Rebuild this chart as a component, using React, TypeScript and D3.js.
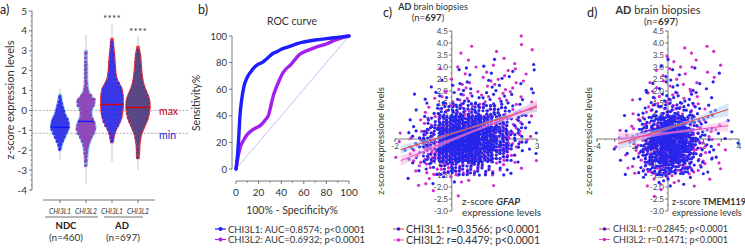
import React from 'react';
import * as d3 from 'd3';

const FONT = "Lato, 'Open Sans', 'DejaVu Sans', sans-serif";

// ---------------- Panel a data ----------------
const groupLabels = ['CHI3L1', 'CHI3L2', 'CHI3L1', 'CHI3L2'];
const cohortLabels = ['NDC', 'AD'];
const cohortSizes = ['460', '697'];
const binStart = -3.0;
const binStep = 0.2;
const ndcL1Counts = [0,0,0,0,0, 2,5,11,17,24, 30,30,27,20,15, 11,7,4,2,0, 0,0,0,0,0, 0,0,0,0,0, 0,0,0];
const ndcL2Counts = [0,1,2,2,4, 6,9,14,20,28, 32,30,24,18,17, 20,28,30,18,8, 5,3,2,2,2, 2,2,1,1,2, 0,0,0];
const adL1Counts = [0,0,0,0,0, 0,0,2,4,8, 14,22,28,32,34, 36,36,36,36,34, 32,24,16,12,10, 9,8,7,6,5, 3,2,1];
const adL2Counts = [0,0,0,1,2, 2,3,5,7,12, 18,24,30,34,37, 39,39,38,34,28, 22,17,14,12,10, 9,8,7,6,4, 1,0,0];
const groupMedians = [-0.85, -0.55, 0.3, 0.15];
const rangeLow = [-2.5, -3.7, -2.6, -3.0];
const rangeHigh = [1.1, 3.8, 4.3, 3.7];
const starLevels = [4.45, 3.8];
const refLevels = [0, -1.15];
const refLabels = ['max', 'min'];
const yTicksA = [-4, -3, -2, -1, 0, 1, 2, 3, 4, 5];

// ---------------- Panel b data ----------------
const rocX1 = [0,1.5,2.5,3.5,5,7,10,13,17,20,23,26,30,33,37,40,45,50,55,60,70,80,90,100];
const rocY1 = [0,12,25,40,52,62,69,73,77,79,80,82,85,87,88.5,90,91.5,93,94.5,95.5,97,98,99,100];
const rocX2 = [0,2,4,7,10,14,18,22,26,29,31,33,35,38,40,44,48,52,56,60,66,72,80,88,95,100];
const rocY2 = [0,10,17,22,26,29,31,33,37,41,48,55,60,66,70,75,78,82,86,88,90,92,94,97,99,100];
const rocTicks = [0, 20, 40, 60, 80, 100];
const rocLegend = ['CHI3L1: AUC=0.8574; p<0.0001', 'CHI3L2: AUC=0.6932; p<0.0001'];

// ---------------- Panel c data (GFAP) ----------------
// counts of points per 0.5 x 0.5 cell; rows from y=4.5 downwards, columns from x=-2 rightwards
const gfapXStart = -2;
const gridYTop = 4.5;
const cellSize = 0.5;
const gfapBlue = [
  [0,0,0,0,0,0,0,0,0,0],
  [0,0,0,0,0,0,0,0,0,0],
  [0,0,0,0,0,0,1,1,0,1],
  [0,0,0,0,1,2,1,1,2,1],
  [0,0,1,1,3,2,2,2,1,1],
  [0,1,2,3,4,4,4,3,2,1],
  [0,1,3,9,14,14,12,8,4,1],
  [0,2,7,20,30,30,24,15,6,2],
  [1,3,13,32,44,44,34,20,8,2],
  [1,4,15,34,46,46,36,20,7,2],
  [1,3,11,26,34,32,22,11,3,1],
  [0,1,4,9,12,11,7,3,1,0],
  [1,0,1,1,1,1,0,0,0,0],
  [0,0,0,0,0,0,0,0,0,0],
];
const gfapMagenta = [
  [0,0,0,0,0,0,0,0,1,0],
  [0,0,0,0,1,1,0,1,1,1],
  [0,0,0,0,1,1,1,1,1,0],
  [0,0,0,1,1,1,2,2,1,1],
  [0,0,0,1,2,2,2,3,2,1],
  [0,0,1,2,3,3,3,3,2,1],
  [0,0,2,4,6,7,7,5,3,1],
  [0,1,4,9,12,13,11,8,4,1],
  [1,2,7,13,18,18,15,10,5,1],
  [1,4,10,17,22,20,15,9,4,1],
  [1,4,10,16,18,15,10,6,2,1],
  [0,2,5,8,9,8,5,3,1,0],
  [0,1,2,1,2,1,1,0,0,0],
  [0,0,1,0,1,0,0,0,0,0],
];
const gfapIntercepts = [0.22, -0.04];
const gfapSlopes = [0.37, 0.48];
const gfapCI = [[0.18, 0.04, 0.2], [0.22, 0.05, 0.22]];
const gfapFitRange = [-1.8, 3.0];
const gfapXTicks = [-2, -1, 0, 1, 2, 3];
const gfapXLabels = [-2, -1, 1, 2, 3];
const gfapLegend = ['CHI3L1: r=0.3566; p<0.0001', 'CHI3L2: r=0.4479; p<0.0001'];

// ---------------- Panel d data (TMEM119) ----------------
const tmemXStart = -3.5;
const tmemBlue = [
  [0,0,0,0,0,0,0,0,0,0,0,0,0,0,0],
  [0,0,0,0,0,0,0,0,0,0,0,0,0,0,0],
  [0,0,0,0,0,0,1,1,0,0,0,0,0,0,0],
  [0,0,0,0,0,0,1,1,1,0,1,0,1,0,0],
  [0,0,0,0,1,1,2,2,1,1,1,1,1,0,0],
  [0,0,0,1,1,2,3,3,3,2,1,1,0,0,0],
  [0,0,0,1,2,4,6,6,6,4,3,2,1,0,0],
  [0,0,1,1,5,11,17,19,16,10,4,2,1,1,0],
  [0,1,1,3,9,18,26,28,24,15,6,3,1,1,1],
  [1,0,1,3,10,20,28,30,25,15,6,3,1,0,1],
  [0,1,1,3,9,16,22,23,19,11,4,2,1,0,0],
  [0,0,1,2,5,9,12,13,10,6,2,1,0,0,0],
  [0,0,0,0,1,1,2,2,1,1,0,0,0,0,0],
  [0,0,0,0,0,0,0,0,0,0,0,0,0,0,0],
];
const tmemMagenta = [
  [0,0,0,0,0,0,0,0,0,0,0,0,0,0,0],
  [0,0,0,0,0,0,0,0,1,1,0,1,1,0,0],
  [0,0,0,0,0,0,1,1,1,0,1,0,1,0,0],
  [0,0,0,0,0,1,1,1,1,1,0,1,1,0,0],
  [0,0,0,0,1,1,1,2,1,1,1,0,0,0,0],
  [0,0,0,1,1,2,2,2,2,1,1,0,0,0,0],
  [0,0,0,1,2,3,4,4,3,2,1,1,0,0,0],
  [0,0,1,1,3,5,7,7,6,4,2,1,1,0,0],
  [0,1,1,2,5,8,10,11,9,6,3,2,1,0,0],
  [0,1,1,3,6,9,12,12,10,7,4,2,1,1,0],
  [0,0,1,2,5,8,10,10,8,6,3,2,1,0,0],
  [0,0,1,2,3,5,6,6,5,4,2,1,1,0,0],
  [0,0,0,0,1,1,2,2,1,1,0,1,0,0,0],
  [0,0,0,0,0,1,1,0,0,0,0,0,0,0,0],
];
const tmemIntercepts = [0.45, 0.25];
const tmemSlopes = [0.23, 0.09];
const tmemCI = [[0.3, 0.06, 0.27], [0.27, 0.05, 0.25]];
const tmemFitRange = [-2.8, 3.4];
const tmemXTicks = [-4, -3, -2, -1, 0, 1, 2, 3, 4];
const tmemXLabels = [-4, -2, 2, 4];
const tmemLegend = ['CHI3L1: r=0.2845; p<0.0001', 'CHI3L2: r=0.1471; p<0.0001'];

const scatterYTicks = [-3, -2.5, -2, -1.5, -1, -0.5, 0, 0.5, 1, 1.5, 2, 2.5, 3, 3.5, 4, 4.5];

// ---------------- styles ----------------
const violinColors = ['#80c0f4', '#80c0f4', '#f22c2c', '#f22c2c'];
const pointColors = ['#2a2ae6', '#8a3cb2', '#2a2ae6', '#4f3a78'];
const medianColors = ['#1515ff', '#1515ff', '#d80000', '#d80000'];
const BLUE = '#2626ea';
const MAGENTA = '#d22ccc';
const AXIS = '#555';

// R2 low-discrepancy layout inside a cell (placement only)
const R2A = 0.7548776662466927;
const R2B = 0.5698402909980532;
const frac = (v: number) => v - Math.floor(v);

function PanelA() {
  const y = d3.scaleLinear().domain([-4, 5]).range([190, 11]);
  const x = d3.scalePoint<number>().domain([0, 1, 2, 3]).range([60, 138]);
  const binPx = y(0) - y(binStep);
  const groups = [ndcL1Counts, ndcL2Counts, adL1Counts, adL2Counts];
  const minor = d3.range(-4, 5.001, 0.25).filter((v) => Math.abs(v - Math.round(v)) > 1e-6);
  const SP = 1.7;

  const violin = (counts: number[], cx: number) => {
    let first = -1;
    let last = -1;
    counts.forEach((c, i) => {
      if (c > 0) {
        if (first < 0) first = i;
        last = i;
      }
    });
    const pts: { v: number; hw: number }[] = [];
    pts.push({ v: binStart + first * binStep - 0.05, hw: 1.5 });
    for (let i = first; i <= last; i++) pts.push({ v: binStart + (i + 0.5) * binStep, hw: (counts[i] * SP) / 6 + 1.7 });
    pts.push({ v: binStart + (last + 1) * binStep + 0.05, hw: 1.5 });
    return d3
      .area<{ v: number; hw: number }>()
      .y((d) => y(d.v))
      .x0((d) => cx - d.hw)
      .x1((d) => cx + d.hw)
      .curve(d3.curveBasis)(pts) as string;
  };

  const dots = (counts: number[], cx: number) => {
    const out: { px: number; py: number }[] = [];
    counts.forEach((n, i) => {
      for (let r = 0; r < 3; r++) {
        const m = Math.floor((n + 2 - r) / 3);
        for (let k = 0; k < m; k++) {
          out.push({
            px: cx + (k - (m - 1) / 2) * SP + (r - 1) * 0.45,
            py: y(binStart + i * binStep) - (r + 0.5) * (binPx / 3),
          });
        }
      }
    });
    return out;
  };

  return (
    <g fontFamily={FONT}>
      <text x={0} y={14} fontSize={12.5} fill="#222">a)</text>
      <text transform={`translate(14,100) rotate(-90)`} textAnchor="middle" fontSize={11} fill="#333">z-score expression levels</text>
      <line x1={32} x2={32} y1={y(5)} y2={y(-4)} stroke={AXIS} strokeWidth={0.8} />
      {yTicksA.map((t) => (
        <g key={t}>
          <line x1={29} x2={32} y1={y(t)} y2={y(t)} stroke={AXIS} strokeWidth={0.8} />
          <text x={27} y={y(t) + 3.5} textAnchor="end" fontSize={10} fill="#333">{t}</text>
        </g>
      ))}
      {minor.map((t) => (
        <line key={t} x1={30.5} x2={32} y1={y(t)} y2={y(t)} stroke={AXIS} strokeWidth={0.6} />
      ))}
      {refLevels.map((v, i) => (
        <g key={i}>
          <line x1={32} x2={188} y1={y(v)} y2={y(v)} stroke="#9a9a9a" strokeWidth={0.8} strokeDasharray="2,1.5" />
          <text x={159} y={y(v) + (i === 0 ? 5 : 6)} fontSize={10.5} fill={i === 0 ? '#c00000' : '#1a1ad0'}>{refLabels[i]}</text>
        </g>
      ))}
      {groups.map((_, g) => (
        <line key={g} x1={x(g)} x2={x(g)} y1={y(rangeLow[g])} y2={y(rangeHigh[g])} stroke="#c9c9c9" strokeWidth={1} />
      ))}
      {groups.map((c, g) => (
        <path key={g} d={violin(c, x(g) as number)} fill={violinColors[g]} />
      ))}
      {groups.map((c, g) => (
        <g key={g}>
          {dots(c, x(g) as number).map((p, j) => (
            <circle key={j} cx={p.px} cy={p.py} r={1.45} fill={pointColors[g]} stroke="rgba(200,200,255,0.35)" strokeWidth={0.25} />
          ))}
        </g>
      ))}
      {groups.map((c, g) => {
        const idx = Math.floor((groupMedians[g] - binStart) / binStep);
        const hw = (c[idx] * SP) / 6 + 1.2;
        return <line key={g} x1={(x(g) as number) - hw} x2={(x(g) as number) + hw} y1={y(groupMedians[g])} y2={y(groupMedians[g])} stroke={medianColors[g]} strokeWidth={1.4} />;
      })}
      {starLevels.map((s, i) => (
        <text key={i} x={x(i + 2)} y={y(s)} textAnchor="middle" fontSize={10} fill="#333" letterSpacing={0.3}>****</text>
      ))}
      <line x1={43} x2={155} y1={200} y2={200} stroke={AXIS} strokeWidth={0.8} />
      {groupLabels.map((l, g) => (
        <g key={g}>
          <line x1={x(g)} x2={x(g)} y1={200} y2={203} stroke={AXIS} strokeWidth={0.8} />
          <text x={x(g)} y={214} textAnchor="middle" fontSize={6.8} fontStyle="italic" fill="#333">{l}</text>
        </g>
      ))}
      <line x1={45} x2={98} y1={217} y2={217} stroke="#333" strokeWidth={0.7} />
      <line x1={104} x2={143} y1={217} y2={217} stroke="#333" strokeWidth={0.7} />
      {cohortLabels.map((c, i) => (
        <g key={c}>
          <text x={i === 0 ? 66 : 122} y={229} textAnchor="middle" fontSize={9.5} fontWeight="bold" fill="#222">{c}</text>
          <text x={i === 0 ? 66 : 123} y={241} textAnchor="middle" fontSize={10} fill="#333">(n={cohortSizes[i]})</text>
        </g>
      ))}
    </g>
  );
}

function PanelB() {
  const x = d3.scaleLinear().domain([0, 100]).range([236, 349]);
  const y = d3.scaleLinear().domain([0, 100]).range([169, 36]);
  const path = (xs: number[], ys: number[]) =>
    d3
      .line<[number, number]>()
      .x((d) => x(d[0]))
      .y((d) => y(d[1]))
      .curve(d3.curveMonotoneX)(xs.map((v, i) => [v, ys[i]] as [number, number])) as string;
  const minorX = d3.range(10, 100, 20);
  return (
    <g fontFamily={FONT}>
      <text x={198} y={14} fontSize={12.5} fill="#222">b)</text>
      <text x={292} y={25} textAnchor="middle" fontSize={10.5} fill="#333">ROC curve</text>
      <text transform="translate(200,103) rotate(-90)" textAnchor="middle" fontSize={10.5} fill="#333">Sensitivity%</text>
      <line x1={232} x2={232} y1={y(100)} y2={y(0)} stroke={AXIS} strokeWidth={0.8} />
      {rocTicks.map((t) => (
        <g key={t}>
          <line x1={229} x2={232} y1={y(t)} y2={y(t)} stroke={AXIS} strokeWidth={0.8} />
          <text x={227} y={y(t) + 3.5} textAnchor="end" fontSize={9.5} fill="#333">{t}</text>
        </g>
      ))}
      <line x1={x(0)} x2={x(100)} y1={181} y2={181} stroke={AXIS} strokeWidth={0.8} />
      {rocTicks.map((t) => (
        <g key={t}>
          <line x1={x(t)} x2={x(t)} y1={181} y2={184} stroke={AXIS} strokeWidth={0.8} />
          <text x={x(t)} y={196} textAnchor="middle" fontSize={10} fill="#333">{t}</text>
        </g>
      ))}
      {minorX.map((t) => (
        <line key={t} x1={x(t)} x2={x(t)} y1={181} y2={183} stroke={AXIS} strokeWidth={0.6} />
      ))}
      <text x={292} y={214} textAnchor="middle" fontSize={10.5} fill="#333">100% - Specificity%</text>
      <line x1={x(0)} y1={y(0)} x2={x(100)} y2={y(100)} stroke="#a4a4f0" strokeWidth={0.7} />
      <path d={path(rocX2, rocY2)} fill="none" stroke="#a21ff0" strokeWidth={3.4} strokeLinejoin="round" strokeLinecap="round" />
      <path d={path(rocX1, rocY1)} fill="none" stroke="#1d1dff" strokeWidth={3.4} strokeLinejoin="round" strokeLinecap="round" />
      {rocLegend.map((t, i) => (
        <g key={t}>
          <line x1={215} x2={226} y1={229 + i * 10.5} y2={229 + i * 10.5} stroke={i === 0 ? '#1d1dff' : '#a21ff0'} strokeWidth={1.2} />
          <circle cx={220.5} cy={229 + i * 10.5} r={2} fill={i === 0 ? '#1d1dff' : '#a21ff0'} />
          <text x={228} y={232.5 + i * 10.5} fontSize={9.5} fill="#333">{t}</text>
        </g>
      ))}
    </g>
  );
}

type ScatterOpts = {
  xDomain: [number, number];
  xRange: [number, number];
  yRange: [number, number];
  xStart: number;
  blue: number[][];
  magenta: number[][];
  intercepts: number[];
  slopes: number[];
  ci: number[][];
  fitRange: number[];
  xTicks: number[];
  xLabels: number[];
  xMinorStep: number;
};

function scatterDots(grid: number[][], xStart: number, seed: number) {
  const pts: [number, number][] = [];
  let counter = seed;
  grid.forEach((row, ri) => {
    row.forEach((n, ci) => {
      for (let k = 0; k < n; k++) {
        counter++;
        const u = frac(0.5 + R2A * counter);
        const v = frac(0.5 + R2B * counter);
        pts.push([xStart + (ci + u) * cellSize, gridYTop - (ri + 1) * cellSize + v * cellSize]);
      }
    });
  });
  return pts;
}

function Scatter({ o }: { o: ScatterOpts }) {
  const x = d3.scaleLinear().domain(o.xDomain).range(o.xRange);
  const y = d3.scaleLinear().domain([-3, 4.5]).range(o.yRange);
  const x0 = x(0);
  const y0 = y(0);
  const minorY = d3.range(-3, 4.501, 0.25).filter((v) => Math.abs(v * 2 - Math.round(v * 2)) > 1e-6);
  const minorX = d3.range(o.xDomain[0], o.xDomain[1] + 0.001, o.xMinorStep);
  const bluePts = scatterDots(o.blue, o.xStart, 0);
  const magPts = scatterDots(o.magenta, o.xStart, 3000);
  const bandColors = ['#a9cff2', '#f6b2de'];
  const lineColors = ['#f23c3c', '#f04cc0'];
  const band = (s: number) => {
    const [a, b] = o.fitRange;
    const xs = [a, (a + b) / 2, b];
    const hs = o.ci[s];
    const data = xs.map((xv, i) => ({ xv, lo: o.intercepts[s] + o.slopes[s] * xv - hs[i], hi: o.intercepts[s] + o.slopes[s] * xv + hs[i] }));
    return d3
      .area<{ xv: number; lo: number; hi: number }>()
      .x((d) => x(d.xv))
      .y0((d) => y(d.lo))
      .y1((d) => y(d.hi))
      .curve(d3.curveNatural)(data) as string;
  };
  return (
    <g fontFamily={FONT}>
      <line x1={x0} x2={x0} y1={y(4.5)} y2={y(-3)} stroke={AXIS} strokeWidth={0.8} />
      {scatterYTicks.map((t) => (
        <g key={t}>
          <line x1={x0 - 3} x2={x0} y1={y(t)} y2={y(t)} stroke={AXIS} strokeWidth={0.8} />
          {t !== 0 && (
            <text x={x0 - 4} y={y(t) + 3} textAnchor="end" fontSize={8} fill="#444">{t.toFixed(1)}</text>
          )}
        </g>
      ))}
      {minorY.map((t) => (
        <line key={t} x1={x0 - 1.5} x2={x0} y1={y(t)} y2={y(t)} stroke={AXIS} strokeWidth={0.6} />
      ))}
      <line x1={x(o.xDomain[0])} x2={x(o.xDomain[1])} y1={y0} y2={y0} stroke={AXIS} strokeWidth={0.8} />
      {minorX.map((t) => (
        <line key={t} x1={x(t)} x2={x(t)} y1={y0} y2={y0 + 1.5} stroke={AXIS} strokeWidth={0.6} />
      ))}
      {o.xTicks.map((t) => (
        <line key={t} x1={x(t)} x2={x(t)} y1={y0} y2={y0 + 3} stroke={AXIS} strokeWidth={0.8} />
      ))}
      {o.xLabels.map((t) => (
        <text key={t} x={x(t)} y={y0 + 10} textAnchor="middle" fontSize={8} fill="#444">{t}</text>
      ))}
      {magPts.map((p, i) => (
        <circle key={'m' + i} cx={x(p[0])} cy={y(p[1])} r={1.6} fill={MAGENTA} />
      ))}
      {bluePts.map((p, i) => (
        <circle key={'b' + i} cx={x(p[0])} cy={y(p[1])} r={1.6} fill={BLUE} />
      ))}
      {[0, 1].map((s) => (
        <path key={'band' + s} d={band(s)} fill={bandColors[s]} opacity={0.5} />
      ))}
      {[0, 1].map((s) => (
        <line
          key={'fit' + s}
          x1={x(o.fitRange[0])}
          x2={x(o.fitRange[1])}
          y1={y(o.intercepts[s] + o.slopes[s] * o.fitRange[0])}
          y2={y(o.intercepts[s] + o.slopes[s] * o.fitRange[1])}
          stroke={lineColors[s]}
          strokeWidth={1}
        />
      ))}
    </g>
  );
}

function PanelC() {
  const o: ScatterOpts = {
    xDomain: [-2, 3],
    xRange: [395, 537],
    yRange: [211, 31],
    xStart: gfapXStart,
    blue: gfapBlue,
    magenta: gfapMagenta,
    intercepts: gfapIntercepts,
    slopes: gfapSlopes,
    ci: gfapCI,
    fitRange: gfapFitRange,
    xTicks: gfapXTicks,
    xLabels: gfapXLabels,
    xMinorStep: 0.5,
  };
  return (
    <g fontFamily={FONT}>
      <text x={383} y={17} fontSize={12.5} fill="#222">c)</text>
      <text x={433} y={10} textAnchor="middle" fontSize={9} fill="#333">
        <tspan fontWeight="bold">AD</tspan> brain biopsies
      </text>
      <text x={428} y={21} textAnchor="middle" fontSize={9.5} fill="#333">
        (n=<tspan fontWeight="bold">697</tspan>)
      </text>
      <text transform="translate(384,141) rotate(-90)" textAnchor="middle" fontSize={9.5} fill="#333">z-score expressione levels</text>
      <Scatter o={o} />
      <text x={462} y={205} fontSize={10} fill="#333">
        z-score <tspan fontWeight="bold" fontStyle="italic">GFAP</tspan>
      </text>
      <text x={462} y={216} fontSize={10} fill="#333">expressione levels</text>
      {gfapLegend.map((t, i) => (
        <g key={t}>
          <line x1={393} x2={404} y1={229 + i * 11} y2={229 + i * 11} stroke={i === 0 ? '#f23c3c' : '#f04cc0'} strokeWidth={1} />
          <circle cx={398.5} cy={229 + i * 11} r={1.8} fill={i === 0 ? BLUE : MAGENTA} />
          <text x={406} y={232.5 + i * 11} fontSize={10.5} fill="#333">{t}</text>
        </g>
      ))}
    </g>
  );
}

function PanelD() {
  const o: ScatterOpts = {
    xDomain: [-4, 4],
    xRange: [597, 739],
    yRange: [211, 31],
    xStart: tmemXStart,
    blue: tmemBlue,
    magenta: tmemMagenta,
    intercepts: tmemIntercepts,
    slopes: tmemSlopes,
    ci: tmemCI,
    fitRange: tmemFitRange,
    xTicks: tmemXTicks,
    xLabels: tmemXLabels,
    xMinorStep: 0.5,
  };
  return (
    <g fontFamily={FONT}>
      <text x={587} y={17} fontSize={12.5} fill="#222">d)</text>
      <text x={658} y={14} textAnchor="middle" fontSize={11} fill="#333">
        <tspan fontWeight="bold">AD</tspan> brain biopsies
      </text>
      <text x={661} y={25} textAnchor="middle" fontSize={10} fill="#333">
        (n=<tspan fontWeight="bold">697</tspan>)
      </text>
      <text transform="translate(592,141) rotate(-90)" textAnchor="middle" fontSize={9.5} fill="#333">z-score expressione levels</text>
      <Scatter o={o} />
      <text x={672} y={205} fontSize={9} fill="#333">
        z-score <tspan fontWeight="bold">TMEM119</tspan>
      </text>
      <text x={672} y={216} fontSize={8.8} fill="#333">expressione levels</text>
      {tmemLegend.map((t, i) => (
        <g key={t}>
          <line x1={599} x2={610} y1={229 + i * 10.5} y2={229 + i * 10.5} stroke={i === 0 ? '#f23c3c' : '#f04cc0'} strokeWidth={1} />
          <circle cx={604.5} cy={229 + i * 10.5} r={1.8} fill={i === 0 ? BLUE : MAGENTA} />
          <text x={613} y={232 + i * 10.5} fontSize={9} fill="#333">{t}</text>
        </g>
      ))}
    </g>
  );
}

export default function App() {
  return (
    <svg width={745} height={248} style={{ position: 'absolute', left: 0, top: 0, background: '#fff' }}>
      <rect width={745} height={248} fill="#fff" />
      <PanelA />
      <PanelB />
      <PanelC />
      <PanelD />
    </svg>
  );
}
